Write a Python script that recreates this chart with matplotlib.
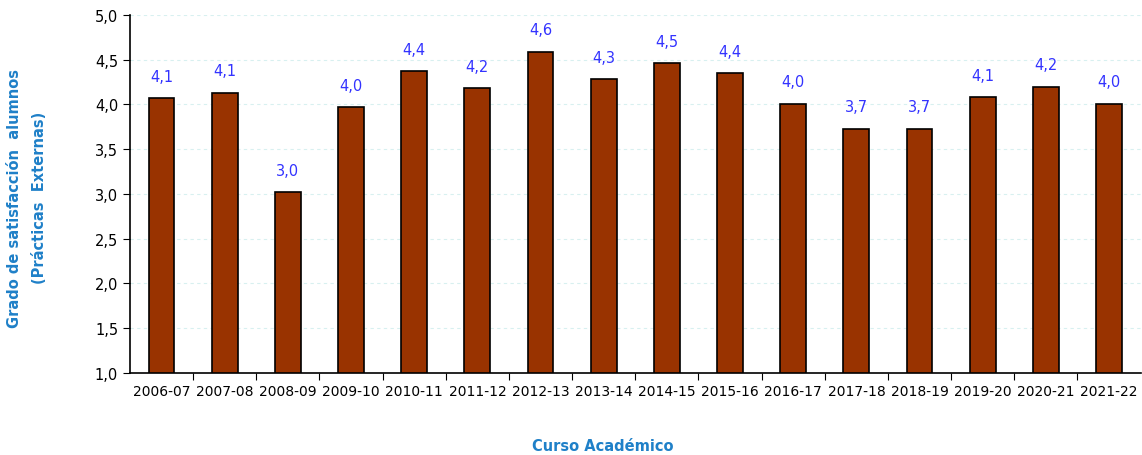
import matplotlib
matplotlib.use('Agg')
import matplotlib.pyplot as plt

cursos = ['2006-07', '2007-08', '2008-09', '2009-10', '2010-11', '2011-12', '2012-13', '2013-14',
          '2014-15', '2015-16', '2016-17', '2017-18', '2018-19', '2019-20', '2020-21', '2021-22']
valores = [4.07, 4.13, 3.02, 3.97, 4.37, 4.18, 4.59, 4.28, 4.46, 4.35, 4.01, 3.73, 3.73, 4.08, 4.20, 4.01]
etiquetas = ['4,1', '4,1', '3,0', '4,0', '4,4', '4,2', '4,6', '4,3', '4,5', '4,4', '4,0', '3,7', '3,7',
             '4,1', '4,2', '4,0']
yticks = [1.0, 1.5, 2.0, 2.5, 3.0, 3.5, 4.0, 4.5, 5.0]

fig = plt.figure(figsize=(11.42, 4.56), dpi=100)
ax = fig.add_axes([0.1138, 0.18, 0.885, 0.785])

x = list(range(len(cursos)))
ax.bar(x, [v - 1.0 for v in valores], bottom=1.0, width=0.41, color='#993300',
       edgecolor='black', linewidth=1.2, zorder=3)
for xi, v, t in zip(x, valores, etiquetas):
    ax.text(xi, v + 0.16, t, ha='center', va='bottom', color='#3333ff', fontsize=10.5)

ax.set_xlim(-0.5, len(cursos) - 0.5)
ax.set_ylim(1.0, 5.0)
ax.set_yticks(yticks)
ax.set_yticklabels([('%.1f' % t).replace('.', ',') for t in yticks], fontsize=10.5)
ax.set_xticks([i - 0.5 for i in range(1, len(cursos))])
ax.set_xticklabels([])
ax.set_xticks(x, minor=True)
ax.set_xticklabels(cursos, minor=True, fontsize=10)
ax.tick_params(axis='x', which='minor', length=0, pad=8)
ax.tick_params(axis='x', which='major', length=5, direction='out')
ax.tick_params(axis='y', length=5, direction='out')

ax.yaxis.grid(True, linestyle=(0, (3, 3)), color='#d8f0f0', linewidth=0.8, zorder=0)
for s in ['top', 'right']:
    ax.spines[s].set_visible(False)
ax.spines['left'].set_linewidth(1.2)
ax.spines['bottom'].set_linewidth(1.2)

fig.text(603 / 1142, 1 - 447 / 456, 'Curso Académico', fontsize=10.5, color='#1f80c8',
         fontweight='bold', ha='center', va='center')
fig.text(15 / 1142, 1 - 198 / 456, 'Grado de satisfacción  alumnos', fontsize=10.5,
         color='#1f80c8', fontweight='bold', rotation=90, ha='center', va='center')
fig.text(40 / 1142, 1 - 198 / 456, '(Prácticas  Externas)', fontsize=10.5,
         color='#1f80c8', fontweight='bold', rotation=90, ha='center', va='center')

plt.savefig('out.png', dpi=100)
